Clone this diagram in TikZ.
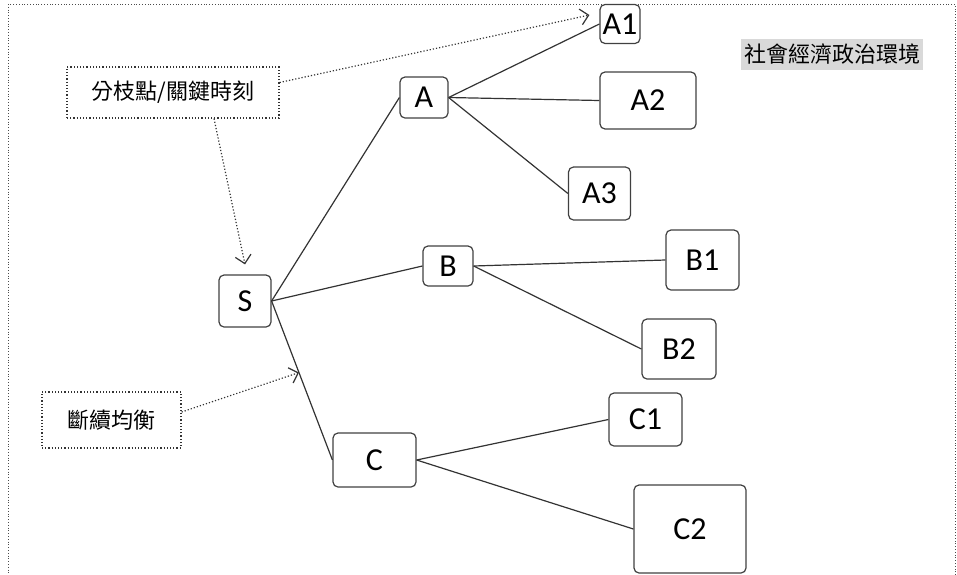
\documentclass[tikz,border=0pt]{standalone}
\usepackage{fontspec}
\setmainfont{Carlito}
\newfontfamily\cjk{Noto Sans CJK TC}
\usetikzlibrary{positioning,arrows.meta}

\begin{document}
\begin{tikzpicture}[x=0.5pt, y=-0.5pt,
					block/.style={rectangle, rounded corners=2.5pt, draw=black!75, line width=0.6pt, inner sep=0pt, font=\fontsize{16}{18}\selectfont},
					note/.style={rectangle, draw=black!80, densely dotted, line width=0.6pt, inner sep=0pt, font=\cjk\fontsize{11}{13}\selectfont},
					pointer/.style={densely dotted, draw=black!80, line width=0.6pt, -{Straight Barb[length=4pt, width=8pt]}},
					branch/.style={draw=black!80, line width=0.6pt}
				]
				\useasboundingbox (0,0) rectangle (957,574);
				\draw[densely dotted, black!70] (8,4) rectangle (955,600);
				% tree
				\node[block, minimum width=26pt, minimum height=26pt] (sroot) at (245,301) {S};
				\node[block, minimum width=24pt, minimum height=20.5pt] (anode) at (424,97.5) {A};
				\node[block, minimum width=25pt, minimum height=20pt] (bnode) at (448,266) {B};
				\node[block, minimum width=41.5pt, minimum height=27pt] (cnode) at (374.5,460) {C};
				\node[block, minimum width=20pt, minimum height=19.5pt] (aone) at (620,24) {A1};
				\node[block, minimum width=48pt, minimum height=28.5pt] (atwo) at (648,100.5) {A2};
				\node[block, minimum width=31pt, minimum height=26.5pt] (athree) at (599.5,193.5) {A3};
				\node[block, minimum width=36.5pt, minimum height=30pt] (bone) at (702.5,260) {B1};
				\node[block, minimum width=37pt, minimum height=30pt] (btwo) at (679,349) {B2};
				\node[block, minimum width=36.5pt, minimum height=26.5pt] (cone) at (645.5,419.5) {C1};
				\node[block, minimum width=56pt, minimum height=44pt] (ctwo) at (690,529) {C2};
				% notes
				\node[note, minimum width=106pt, minimum height=25.5pt] (branchpoint) at (173,92.5) {分枝點/關鍵時刻};
				\node[note, minimum width=69.5pt, minimum height=28pt] (punctuated) at (111.5,420) {斷續均衡};
				\node[rectangle, fill=black!15, inner sep=0pt, minimum width=91pt, minimum height=15.5pt, font=\cjk\fontsize{11}{13}\selectfont] (environment) at (832,54.5) {社會經濟政治環境};
				\begin{scope}[branch]
				\draw (sroot.east) -- (anode.west);
				\draw (sroot.east) -- (bnode.west);
				\draw (sroot.east) -- coordinate[pos=0.45] (stoc) (cnode.west);
				\draw (anode.east) -- (aone.west);
				\draw (anode.east) -- (atwo.west);
				\draw (anode.east) -- (athree.west);
				\draw (bnode.east) -- (bone.west);
				\draw (bnode.east) -- (btwo.west);
				\draw (cnode.east) -- (cone.west);
				\draw (cnode.east) -- (ctwo.west);
				\end{scope}
				\draw[pointer] ([yshift=5pt]branchpoint.east) -- ([xshift=-5pt, yshift=4.5pt]aone.west);
				\draw[pointer] ([xshift=20.5pt]branchpoint.south) -- ([yshift=5pt]sroot.north);
				\draw[pointer] ([yshift=4pt]punctuated.east) -- (stoc);
				\end{tikzpicture}
\end{document}
